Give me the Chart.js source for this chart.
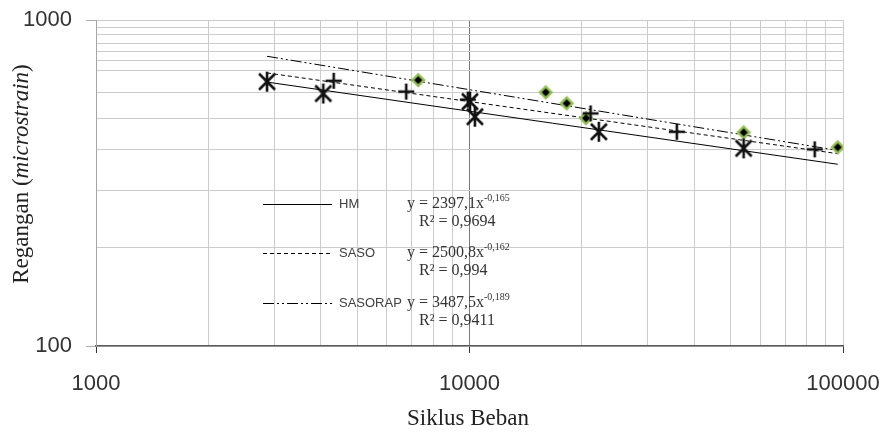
<!DOCTYPE html>
<html>
<head>
<meta charset="utf-8">
<script src="https://cdn.jsdelivr.net/npm/chart.js@4"></script>
<style>
  html, body { margin: 0; padding: 0; background: #fff; }
  #wrap { width: 888px; height: 437px; }
</style>
</head>
<body>
<div id="wrap"><canvas id="myChart" width="888" height="437"></canvas></div>
<script>
// measured points (cycles, microstrain)
const hmX = [2870, 4060, 10030, 10340, 22200, 54200];
const hmY = [647, 595, 562, 505, 454, 404];
const sasoX = [4330, 6770, 9900, 21100, 35900, 84000];
const sasoY = [651, 603, 570, 517, 454, 401];
const sasorapX = [7290, 16000, 18200, 20500, 54200, 96800];
const sasorapY = [654, 600, 555, 500, 452, 407];

// power trendlines, end points
const trendX = [2870, 96800];
const hmTrendY = [645, 361];
const sasoTrendY = [688, 389];
const sasorapTrendY = [774, 398];

const seriesNames = ['HM', 'SASO', 'SASORAP'];
const equations = ['y = 2397,1x', 'y = 2500,8x', 'y = 3487,5x'];
const exponents = ['-0,165', '-0,162', '-0,189'];
const rSquared = ['R\u00B2 = 0,9694', 'R\u00B2 = 0,994', 'R\u00B2 = 0,9411'];

const xTicks = [1000, 2000, 3000, 4000, 5000, 6000, 7000, 8000, 9000,
    10000, 20000, 30000, 40000, 50000, 60000, 70000, 80000, 90000, 100000];
const yTicks = [100, 200, 300, 400, 500, 600, 700, 750, 800, 850, 900, 950, 1000];
const xLabels = [1000, 10000, 100000];
const yLabels = [100, 1000];

const pairs = (xs, ys) => xs.map((x, i) => ({x: x, y: ys[i]}));

function makeMarker(kind) {
    const c = document.createElement('canvas');
    const s = kind === 'diamond' ? 16 : 22;
    c.width = s; c.height = s;
    const g = c.getContext('2d');
    const m = s / 2;
    if (kind === 'star') {
        g.strokeStyle = '#111';
        g.lineWidth = 2.6;
        g.beginPath();
        g.moveTo(m - 8, m - 8); g.lineTo(m + 8, m + 8);
        g.moveTo(m + 8, m - 8); g.lineTo(m - 8, m + 8);
        g.moveTo(m, m - 10); g.lineTo(m, m + 10);
        g.stroke();
    } else if (kind === 'plus') {
        g.strokeStyle = '#111';
        g.lineWidth = 2.6;
        g.beginPath();
        g.moveTo(m - 8, m); g.lineTo(m + 8, m);
        g.moveTo(m, m - 8); g.lineTo(m, m + 8);
        g.stroke();
    } else {
        g.fillStyle = '#93bd55';
        g.beginPath();
        g.moveTo(m, m - 7.5); g.lineTo(m + 7.5, m); g.lineTo(m, m + 7.5); g.lineTo(m - 7.5, m);
        g.closePath(); g.fill();
        g.fillStyle = '#000';
        g.beginPath();
        g.moveTo(m, m - 4); g.lineTo(m + 4, m); g.lineTo(m, m + 4); g.lineTo(m - 4, m);
        g.closePath(); g.fill();
    }
    return c;
}

const textPlugin = {
    id: 'textPlugin',
    afterDraw(chart) {
        const ctx = chart.ctx;
        ctx.save();
        // legend + equations inside the plot
        const rows = [204, 253, 303];
        const dashes = [[], [4, 3], [11, 3, 2, 3, 2, 3]];
        rows.forEach((y, i) => {
            ctx.strokeStyle = '#000';
            ctx.lineWidth = 1;
            ctx.setLineDash(dashes[i]);
            ctx.beginPath();
            ctx.moveTo(263, y + 0.5);
            ctx.lineTo(332, y + 0.5);
            ctx.stroke();
            ctx.setLineDash([]);

            ctx.fillStyle = '#404040';
            ctx.textBaseline = 'middle';
            ctx.textAlign = 'left';
            ctx.font = '13px "Liberation Sans", Arial, sans-serif';
            ctx.fillText(seriesNames[i], 339, y);

            ctx.fillStyle = '#333';
            ctx.font = '16px "Liberation Serif", "Times New Roman", serif';
            ctx.fillText(equations[i], 407, y);
            const w = ctx.measureText(equations[i]).width;
            ctx.font = '10px "Liberation Serif", "Times New Roman", serif';
            ctx.fillText(exponents[i], 407 + w, y - 6);
            ctx.font = '16px "Liberation Serif", "Times New Roman", serif';
            ctx.fillText(rSquared[i], 419, y + 18);
        });

        // axis titles
        ctx.fillStyle = '#222';
        ctx.textAlign = 'center';
        ctx.textBaseline = 'middle';
        ctx.font = '23px "Liberation Serif", "Times New Roman", serif';
        ctx.fillText('Siklus Beban', 468, 419);

        ctx.translate(22, 174);
        ctx.rotate(-Math.PI / 2);
        const parts = [
            ['Regangan (', '23px "Liberation Serif", serif'],
            ['microstrain', 'italic 23px "Liberation Serif", serif'],
            [')', '23px "Liberation Serif", serif']
        ];
        let total = 0;
        parts.forEach(p => { ctx.font = p[1]; total += ctx.measureText(p[0]).width; });
        let x = -total / 2;
        ctx.textAlign = 'left';
        parts.forEach(p => {
            ctx.font = p[1];
            ctx.fillText(p[0], x, 0);
            x += ctx.measureText(p[0]).width;
        });
        ctx.restore();
    }
};

const trendLine = (ys, dash) => ({
    data: pairs(trendX, ys),
    showLine: true,
    borderColor: '#000',
    borderWidth: 1,
    borderDash: dash,
    pointRadius: 0,
    fill: false
});

const markerSet = (xs, ys, style) => ({
    data: pairs(xs, ys),
    showLine: false,
    pointStyle: style,
    pointRadius: 10
});

new Chart(document.getElementById('myChart'), {
    type: 'scatter',
    data: {
        datasets: [
            markerSet(hmX, hmY, makeMarker('star')),
            markerSet(sasoX, sasoY, makeMarker('plus')),
            markerSet(sasorapX, sasorapY, makeMarker('diamond')),
            trendLine(hmTrendY, []),
            trendLine(sasoTrendY, [4, 3]),
            trendLine(sasorapTrendY, [11, 3, 2, 3, 2, 3])
        ]
    },
    options: {
        responsive: false,
        animation: false,
        devicePixelRatio: 1,
        layout: {autoPadding: false, padding: {top: 20, right: 45, left: 0, bottom: 0}},
        plugins: {legend: {display: false}, tooltip: {enabled: false}},
        scales: {
            x: {
                type: 'logarithmic',
                min: 1000,
                max: 100000,
                afterBuildTicks: (scale) => { scale.ticks = xTicks.map(v => ({value: v})); },
                afterFit: (scale) => {
                    scale.height = 91;
                    scale.paddingLeft = 0;
                    scale.paddingRight = 0;
                },
                ticks: {
                    autoSkip: false,
                    maxRotation: 0,
                    padding: 18,
                    color: '#333',
                    font: {family: '"Liberation Sans", Arial, sans-serif', size: 22},
                    callback: (v) => xLabels.includes(v) ? String(v) : ''
                },
                grid: {
                    color: (c) => (c.tick && c.tick.value === 10000) ? '#7a7a7a' : '#cccccc',
                    tickColor: (c) => (c.tick && xLabels.includes(c.tick.value)) ? '#333' : 'rgba(0,0,0,0)',
                    tickLength: 7
                },
                border: {color: '#5a5a5a', width: 1.5}
            },
            y: {
                type: 'logarithmic',
                min: 100,
                max: 1000,
                afterBuildTicks: (scale) => { scale.ticks = yTicks.map(v => ({value: v})); },
                afterFit: (scale) => {
                    scale.width = 96;
                    scale.paddingTop = 0;
                    scale.paddingBottom = 0;
                },
                ticks: {
                    autoSkip: false,
                    padding: 14,
                    color: '#333',
                    font: {family: '"Liberation Sans", Arial, sans-serif', size: 22},
                    callback: (v) => yLabels.includes(v) ? String(v) : ''
                },
                grid: {
                    color: '#cccccc',
                    tickColor: (c) => (c.tick && yLabels.includes(c.tick.value)) ? '#b0b0b0' : 'rgba(0,0,0,0)',
                    tickLength: 10
                },
                border: {color: '#a6a6a6', width: 1}
            }
        }
    },
    plugins: [textPlugin]
});
</script>
</body>
</html>
